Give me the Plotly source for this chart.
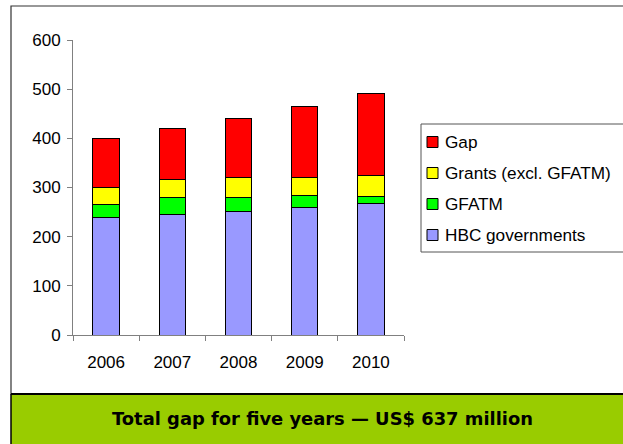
import plotly.graph_objects as go

# Annual funding (US$ millions) by source, stacked per year
years = ["2006", "2007", "2008", "2009", "2010"]
hbc_governments = [239, 246, 252, 259, 267]
gfatm = [27, 34, 28, 24, 15]
grants_excl_gfatm = [34, 37, 40, 37, 42]
gap = [100, 104, 121, 144, 168]

series_names = ["HBC governments", "GFATM", "Grants (excl. GFATM)", "Gap"]
series_values = [hbc_governments, gfatm, grants_excl_gfatm, gap]
series_colors = ["#9999FF", "#00FF00", "#FFFF00", "#FF0000"]

total_gap = sum(gap)

W, H = 623, 444
M_L, M_R, M_T, M_B = 73, 219, 40, 109
PW = W - M_L - M_R
PH = H - M_T - M_B


def px_x(px):
    return (px - M_L) / PW


def px_y(py):
    return (H - M_B - py) / PH


text_family = "Liberation Sans, Arial, sans-serif"
tick_font = dict(family=text_family, size=17, color="#000000")

fig = go.Figure()
for name, vals, color in zip(series_names, series_values, series_colors):
    fig.add_trace(go.Bar(
        x=years, y=vals, name=name,
        marker=dict(color=color, line=dict(color="#000000", width=1)),
    ))

shapes = [
    # outer frame of the chart panel
    dict(type="rect", xref="paper", yref="paper", layer="below",
         x0=px_x(11), x1=px_x(660), y0=px_y(394), y1=px_y(6),
         line=dict(color="#333333", width=1.2), fillcolor="rgba(0,0,0,0)"),
    # summary band
    dict(type="rect", xref="paper", yref="paper", layer="below",
         x0=px_x(11), x1=px_x(660), y0=px_y(460), y1=px_y(394),
         line=dict(width=0), fillcolor="#99CC00"),
    dict(type="line", xref="paper", yref="paper",
         x0=px_x(11), x1=px_x(660), y0=px_y(394), y1=px_y(394),
         line=dict(color="#000000", width=2)),
    dict(type="line", xref="paper", yref="paper",
         x0=px_x(11), x1=px_x(11), y0=px_y(460), y1=px_y(394),
         line=dict(color="#000000", width=1.5)),
    # legend box
    dict(type="rect", xref="paper", yref="paper",
         x0=px_x(421), x1=px_x(660), y0=px_y(252), y1=px_y(124),
         line=dict(color="#555555", width=1), fillcolor="#FFFFFF"),
]

annotations = [
    dict(xref="paper", yref="paper", x=px_x(322), y=px_y(418),
         xanchor="center", yanchor="middle", showarrow=False,
         text=f"<b>Total gap for five years — US$ {total_gap} million</b>",
         font=dict(family="DejaVu Sans, Verdana, sans-serif",
                   size=17.9, color="#000000")),
]

# legend entries, top to bottom: last stacked series first
legend_rows_y = [142, 173, 204, 235]
for row_y, name, color in zip(legend_rows_y, series_names[::-1], series_colors[::-1]):
    shapes.append(dict(type="rect", xref="paper", yref="paper",
                       x0=px_x(427), x1=px_x(438),
                       y0=px_y(row_y + 5.5), y1=px_y(row_y - 5.5),
                       line=dict(color="#000000", width=1), fillcolor=color))
    annotations.append(dict(xref="paper", yref="paper", x=px_x(443), y=px_y(row_y),
                            xanchor="left", yanchor="middle", showarrow=False,
                            text=name, font=dict(family=text_family, size=17.2,
                                                 color="#000000")))

fig.update_layout(
    width=W, height=H,
    margin=dict(l=M_L, r=M_R, t=M_T, b=M_B, pad=0, autoexpand=False),
    barmode="stack",
    bargap=0.6,
    paper_bgcolor="#FFFFFF",
    plot_bgcolor="#FFFFFF",
    showlegend=False,
    xaxis=dict(
        type="category", showline=True, linecolor="#808080", linewidth=1,
        ticks="outside", tickson="boundaries", ticklen=5, tickcolor="#808080",
        tickfont=tick_font, showgrid=False, zeroline=False, ticklabelstandoff=12,
    ),
    yaxis=dict(
        range=[0, 600], dtick=100, showline=True, linecolor="#808080", linewidth=1,
        ticks="outside", ticklen=5, tickcolor="#808080", tickfont=tick_font,
        showgrid=False, zeroline=False, ticklabelstandoff=3,
    ),
    shapes=shapes,
    annotations=annotations,
)

fig.write_html("out.html")
